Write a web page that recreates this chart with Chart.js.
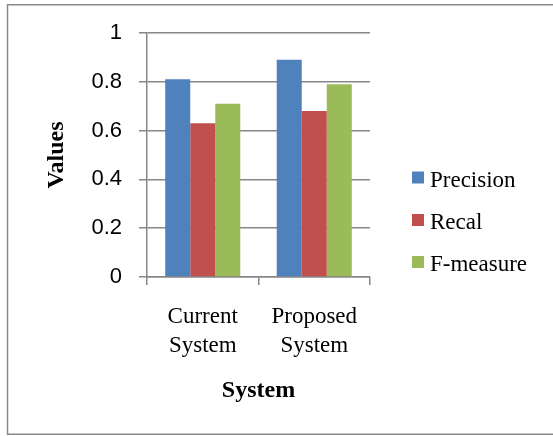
<!DOCTYPE html>
<html>
<head>
<meta charset="utf-8">
<script src="https://cdn.jsdelivr.net/npm/chart.js@4.4.1/dist/chart.umd.min.js"></script>
<style>
html,body{margin:0;padding:0;background:#fff;}
canvas{display:block;}
</style>
</head>
<body>
<canvas id="c" width="553" height="436" style="width:553px;height:436px"></canvas>
<script>
const categories = [["Current", "System"], ["Proposed", "System"]];
const seriesNames = ["Precision", "Recal", "F-measure"];
const precision = [0.81, 0.89];
const recal = [0.63, 0.68];
const fmeasure = [0.71, 0.79];
const yTickLabels = ["0", "0.2", "0.4", "0.6", "0.8", "1"];
const colors = ["#4F81BD", "#C0504D", "#9BBB59"];

const gridColor = "#878787";

const frameAndLegend = {
  id: "frameAndLegend",
  afterDraw(chart) {
    const ctx = chart.ctx;
    ctx.save();
    // outer frame
    ctx.strokeStyle = "#8a8a8a";
    ctx.lineWidth = 1.5;
    ctx.strokeRect(7.5, 4.75, 560, 429.5);
    // legend
    const rowY = [177.5, 220, 262];
    ctx.font = "23px 'Liberation Serif'";
    ctx.textBaseline = "alphabetic";
    ctx.textAlign = "left";
    chart.data.datasets.forEach((ds, i) => {
      ctx.fillStyle = ds.backgroundColor;
      ctx.fillRect(412, rowY[i] - 6, 12, 12);
      ctx.fillStyle = "#000";
      ctx.fillText(ds.label, 430, rowY[i] + 9);
    });
    ctx.restore();
  }
};

new Chart(document.getElementById("c"), {
  type: "bar",
  data: {
    labels: categories,
    datasets: [
      { label: seriesNames[0], data: precision, backgroundColor: colors[0] },
      { label: seriesNames[1], data: recal, backgroundColor: colors[1] },
      { label: seriesNames[2], data: fmeasure, backgroundColor: colors[2] }
    ]
  },
  options: {
    responsive: false,
    animation: false,
    layout: { padding: { top: 33, right: 183, left: 0, bottom: 0 } },
    datasets: { bar: { categoryPercentage: 0.673, barPercentage: 1.0 } },
    plugins: {
      legend: { display: false },
      tooltip: { enabled: false }
    },
    scales: {
      x: {
        offset: true,
        afterFit(scale) { scale.height = 159; },
        grid: { drawOnChartArea: false, drawTicks: true, tickLength: 8, color: gridColor, lineWidth: 1.5, offset: true },
        border: { display: true, color: gridColor, width: 1.5 },
        ticks: {
          color: "#000",
          padding: 18,
          maxRotation: 0,
          font: { family: "'Liberation Serif'", size: 23, lineHeight: 1.25 }
        },
        title: {
          display: true,
          text: "System",
          color: "#000",
          font: { family: "'Liberation Serif'", size: 24, weight: "bold", lineHeight: 1.2 },
          padding: { top: 0, bottom: 31 }
        }
      },
      y: {
        min: 0,
        max: 1,
        afterFit(scale) { scale.width = 147; },
        grid: { drawTicks: true, tickLength: 8, color: gridColor, lineWidth: 1.5 },
        border: { display: true, color: gridColor, width: 1.5 },
        ticks: {
          stepSize: 0.2,
          color: "#000",
          padding: 17,
          font: { family: "'Liberation Sans'", size: 22 },
          callback: function (value, index) { return yTickLabels[index]; }
        },
        title: {
          display: true,
          text: "Values",
          color: "#000",
          font: { family: "'Liberation Serif'", size: 24, weight: "bold", lineHeight: 1.2 },
          padding: { top: 42, bottom: 0 }
        }
      }
    }
  },
  plugins: [frameAndLegend]
});
</script>
</body>
</html>
